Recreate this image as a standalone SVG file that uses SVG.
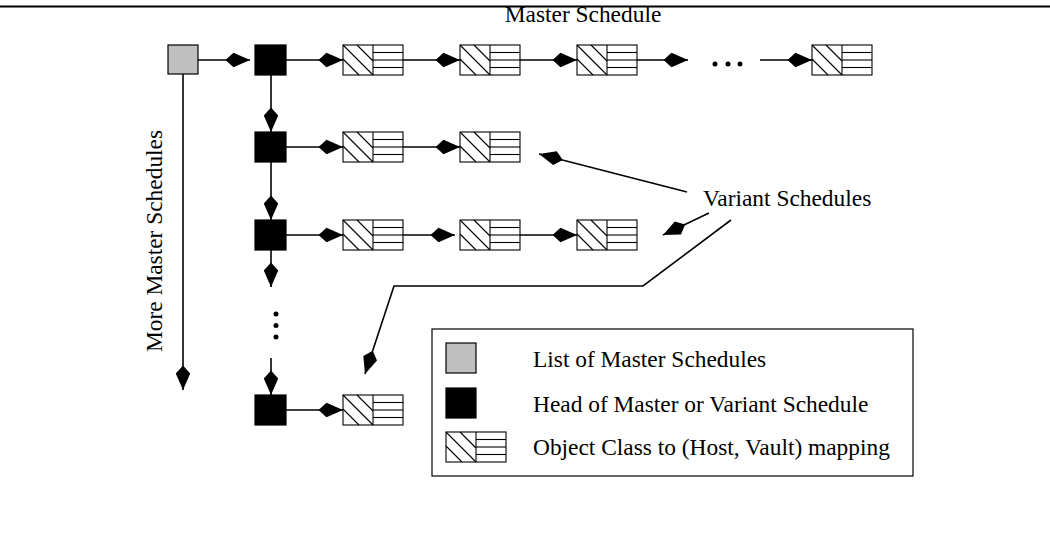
<svg xmlns="http://www.w3.org/2000/svg" width="1050" height="538" viewBox="0 0 1050 538">
<style>
  .ln { stroke:#000; stroke-width:1.6; fill:none; }
  .arr { marker-end:url(#ah); }
  .box { stroke:#000; stroke-width:1.2; }
  .txt { font-family:"Liberation Serif","Times New Roman",serif; font-size:23.4px; fill:#000; }
  .oc line, .oc rect { stroke:#000; stroke-width:1.1; }
</style>
<defs>
  <marker id="ah" markerUnits="userSpaceOnUse" markerWidth="25" markerHeight="15" viewBox="0 0 25 15" refX="24.5" refY="7.5" orient="auto" overflow="visible">
    <path d="M24.5,7.5 L8,0.3 L0,7.5 L8,14.7 Z" fill="#000"/>
  </marker>
  <g id="oc" class="oc">
    <rect x="0" y="0" width="60" height="30" fill="#fff"/>
    <line x1="0" y1="0" x2="30" y2="30"/>
    <line x1="14" y1="0" x2="30" y2="16"/>
    <line x1="0" y1="14" x2="16" y2="30"/>
    <line x1="30" y1="0" x2="30" y2="30"/>
    <line x1="30" y1="7.5" x2="60" y2="7.5"/>
    <line x1="30" y1="15" x2="60" y2="15"/>
    <line x1="30" y1="22.5" x2="60" y2="22.5"/>
  </g>
</defs>
<rect width="1050" height="538" fill="#fff"/>
<line x1="0" y1="6.5" x2="1050" y2="6.5" stroke="#000" stroke-width="2"/>
<text class="txt" x="583" y="22" text-anchor="middle">Master Schedule</text>

<g id="connectors">
  <line class="ln arr" x1="198" y1="60" x2="250" y2="60"/>
  <line class="ln arr" x1="286" y1="60" x2="343" y2="60"/>
  <line class="ln arr" x1="403" y1="60" x2="460" y2="60"/>
  <line class="ln arr" x1="520" y1="60" x2="577" y2="60"/>
  <line class="ln arr" x1="637" y1="60" x2="688" y2="60"/>
  <line class="ln arr" x1="760" y1="60" x2="812" y2="60"/>
  <line class="ln arr" x1="271" y1="75" x2="271" y2="132"/>
  <line class="ln arr" x1="271" y1="162" x2="271" y2="220"/>
  <line class="ln arr" x1="271" y1="250" x2="271" y2="287"/>
  <line class="ln arr" x1="271" y1="358" x2="271" y2="395"/>
  <line class="ln arr" x1="183" y1="74" x2="183" y2="390"/>
  <line class="ln arr" x1="286" y1="147" x2="343" y2="147"/>
  <line class="ln arr" x1="403" y1="147" x2="460" y2="147"/>
  <line class="ln arr" x1="286" y1="235" x2="343" y2="235"/>
  <line class="ln arr" x1="403" y1="235" x2="455" y2="235"/>
  <line class="ln arr" x1="520" y1="235" x2="577" y2="235"/>
  <line class="ln arr" x1="286" y1="410" x2="343" y2="410"/>
  <line class="ln arr" x1="687" y1="192" x2="539" y2="154"/>
  <line class="ln arr" x1="709" y1="213" x2="663" y2="235"/>
  <polyline class="ln arr" points="731,220 643,286 394,286 365,374"/>
</g>

<g id="ellipsis-h">
  <circle cx="715" cy="64" r="2.5"/>
  <circle cx="728" cy="64" r="2.5"/>
  <circle cx="740" cy="64" r="2.5"/>
</g>
<g id="ellipsis-v">
  <circle cx="276" cy="314" r="2.5"/>
  <circle cx="276" cy="325.5" r="2.5"/>
  <circle cx="276" cy="337" r="2.5"/>
</g>

<g id="master-list"><rect class="box" x="168" y="45" width="30" height="29" fill="#bfbfbf"/></g>
<g id="head-1"><rect class="box" x="255" y="45" width="31" height="30" fill="#000"/></g>
<g id="head-2"><rect class="box" x="255" y="132" width="31" height="30" fill="#000"/></g>
<g id="head-3"><rect class="box" x="255" y="220" width="31" height="30" fill="#000"/></g>
<g id="head-4"><rect class="box" x="255" y="395" width="31" height="30" fill="#000"/></g>

<g id="obj-1-1"><use href="#oc" x="343" y="45"/></g>
<g id="obj-1-2"><use href="#oc" x="460" y="45"/></g>
<g id="obj-1-3"><use href="#oc" x="577" y="45"/></g>
<g id="obj-1-4"><use href="#oc" x="812" y="45"/></g>
<g id="obj-2-1"><use href="#oc" x="343" y="132"/></g>
<g id="obj-2-2"><use href="#oc" x="460" y="132"/></g>
<g id="obj-3-1"><use href="#oc" x="343" y="220"/></g>
<g id="obj-3-2"><use href="#oc" x="460" y="220"/></g>
<g id="obj-3-3"><use href="#oc" x="577" y="220"/></g>
<g id="obj-4-1"><use href="#oc" x="343" y="395"/></g>

<g id="label-more">
  <text class="txt" transform="translate(162,241) rotate(-90)" text-anchor="middle">More Master Schedules</text>
</g>
<g id="label-variant">
  <text class="txt" x="703" y="206">Variant Schedules</text>
</g>

<g id="legend">
  <rect x="432" y="329" width="481" height="147" fill="none" stroke="#000" stroke-width="1.2"/>
  <rect class="box" x="446" y="343" width="30" height="30" fill="#bfbfbf"/>
  <rect class="box" x="446" y="388" width="30" height="30" fill="#000"/>
  <use href="#oc" x="446" y="432"/>
  <text class="txt" x="533" y="367">List of Master Schedules</text>
  <text class="txt" x="533" y="412">Head of Master or Variant Schedule</text>
  <text class="txt" x="533" y="455">Object Class to (Host, Vault) mapping</text>
</g>
</svg>
